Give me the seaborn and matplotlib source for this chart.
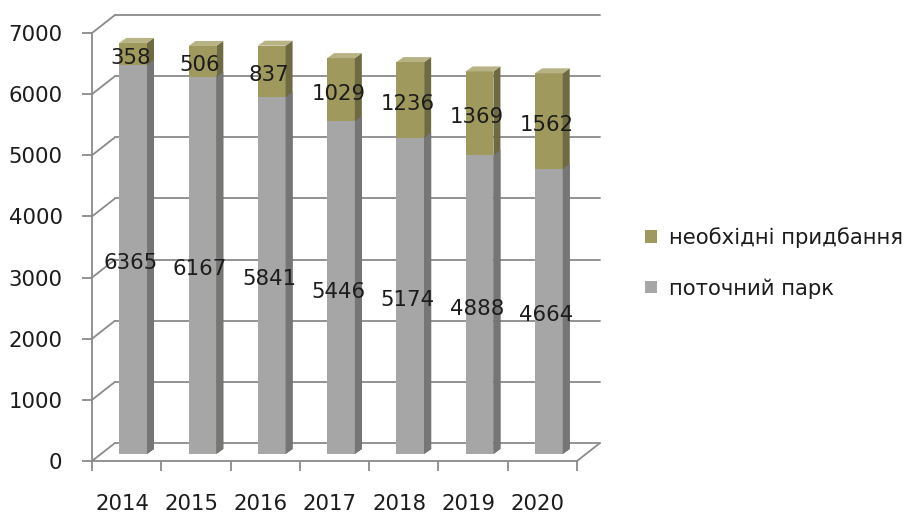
import numpy as np
import pandas as pd
import matplotlib.pyplot as plt
import seaborn as sns
from matplotlib.patches import Polygon, Patch
from matplotlib.transforms import ScaledTranslation

# data
years = ['2014', '2015', '2016', '2017', '2018', '2019', '2020']
current_park = [6365, 6167, 5841, 5446, 5174, 4888, 4664]
needed = [358, 506, 837, 1029, 1236, 1369, 1562]
y_ticks = [0, 1000, 2000, 3000, 4000, 5000, 6000, 7000]
label_needed = 'необхідні придбання'
label_park = 'поточний парк'

df = pd.DataFrame({'year': years, 'park': current_park, 'need': needed})
df['total'] = df['park'] + df['need']

sns.set_style('white')
plt.rcParams['font.family'] = ['DejaVu Sans']

gray = '#a6a6a6'
gray_side = '#767676'
olive = '#9f995d'
olive_side = '#6e6a42'
olive_top = '#b8b384'
line_c = '#8a8a8a'
txt_c = '#1c1c1c'
fs = 15.3

fig = plt.figure(figsize=(9.09, 5.15), dpi=100)
ax_w, ax_h = 485, 428
ax = fig.add_axes([92 / 909, 54 / 515, ax_w / 909, ax_h / 515])
ax.set_xlim(-0.5, 6.5)
ax.set_ylim(0, 7000)

# pixel -> data units
ux = 7 / ax_w
uy = 7000 / ax_h

# back wall + side wall gridlines (fake 3d)
bx, by = 23 * ux, 18 * uy
for v in y_ticks:
    ax.plot([-0.5 + bx, 6.5 + bx], [v + by, v + by], color=line_c, lw=1.3,
            zorder=0.5, clip_on=False)
    ax.plot([-0.5, -0.5 + bx], [v, v + by], color=line_c, lw=1.3,
            zorder=0.5, clip_on=False)
ax.plot([6.5, 6.5 + bx], [0, by], color=line_c, lw=1.3, zorder=0.5, clip_on=False)

# stacked bars: total first (olive), current park over it (gray)
n0 = len(ax.patches)
sns.barplot(data=df, x='year', y='total', color=olive, saturation=1,
            width=0.4, errorbar=None, ax=ax)
olive_bars = ax.patches[n0:]
n1 = len(ax.patches)
sns.barplot(data=df, x='year', y='park', color=gray, saturation=1,
            width=0.4, errorbar=None, ax=ax)
gray_bars = ax.patches[n1:]

shx, shy = 6.5 * ux, 7 * uy
sdx, sdy = 7 * ux, 5 * uy
for bars, side_c, top in [(olive_bars, olive_side, True), (gray_bars, gray_side, False)]:
    for p in bars:
        p.set_x(p.get_x() + shx)
        p.set_y(p.get_y() + shy)
        p.set_clip_on(False)
        p.set_linewidth(0)
        p.set_zorder(2 if top else 3)
        x0, y0 = p.get_x(), p.get_y()
        x1, y1 = x0 + p.get_width(), y0 + p.get_height()
        side = Polygon([(x1, y0), (x1 + sdx, y0 + sdy), (x1 + sdx, y1 + sdy), (x1, y1)],
                       closed=True, fc=side_c, ec='none', zorder=p.get_zorder(),
                       clip_on=False)
        ax.add_patch(side)
        if top:
            tp = Polygon([(x0, y1), (x1, y1), (x1 + sdx, y1 + sdy), (x0 + sdx, y1 + sdy)],
                         closed=True, fc=olive_top, ec='none', zorder=2, clip_on=False)
            ax.add_patch(tp)

# data labels
lx, ly = 4 * ux, 3 * uy
for i in range(len(years)):
    ax.text(i + lx, current_park[i] / 2 + ly, str(current_park[i]), ha='center',
            va='center', fontsize=fs, color=txt_c, zorder=5)
    ax.text(i + lx, current_park[i] + needed[i] / 2 + ly, str(needed[i]), ha='center',
            va='center', fontsize=fs, color=txt_c, zorder=5)

# axes styling
for s in ['top', 'right']:
    ax.spines[s].set_visible(False)
for s in ['left', 'bottom']:
    ax.spines[s].set_color(line_c)
    ax.spines[s].set_linewidth(1.3)
ax.set_xlabel('')
ax.set_ylabel('')
ax.set_yticks(y_ticks)
ax.set_yticklabels([str(v) for v in y_ticks])
ax.tick_params(axis='y', length=7.2, width=1.3, color=line_c, pad=14,
               labelsize=fs, labelcolor=txt_c, left=True)
ax.set_xticks(range(len(years)))
ax.set_xticklabels(years)
ax.tick_params(axis='x', which='major', length=0, pad=23.5, labelsize=fs,
               labelcolor=txt_c)
ax.set_xticks(np.arange(-0.5, 7, 1), minor=True)
ax.tick_params(axis='x', which='minor', length=7.2, width=1.3, color=line_c,
               bottom=True)
for lbl in ax.get_xticklabels():
    lbl.set_transform(lbl.get_transform() + ScaledTranslation(-4.5 / 100, 0, fig.dpi_scale_trans))

handles = [Patch(fc=olive, ec='none', label=label_needed),
           Patch(fc=gray, ec='none', label=label_park)]
ax.legend(handles=handles, loc='center left', bbox_to_anchor=(645 / 909, 1 - 263 / 515),
          bbox_transform=fig.transFigure, frameon=False, fontsize=fs,
          handlelength=0.55, handleheight=0.55, handletextpad=0.6,
          labelspacing=1.4, borderpad=0, borderaxespad=0, labelcolor=txt_c)

fig.savefig('out.png', dpi=100)
